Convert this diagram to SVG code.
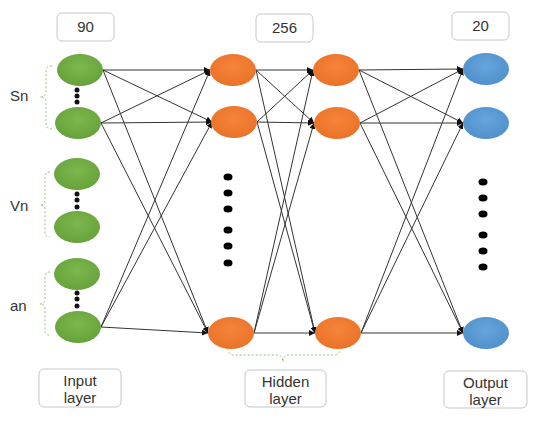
<svg xmlns="http://www.w3.org/2000/svg" width="550" height="426" viewBox="0 0 550 426">
<defs>
<style>
.t{font-family:"Liberation Sans",Arial,sans-serif;font-size:15px;fill:#333}
.box{fill:#fff;stroke:#c8c8c8;stroke-width:1}
.in{fill:url(#gG)}
.hid{fill:url(#gO)}
.out{fill:url(#gB)}
.e{stroke:#333;stroke-width:1;fill:none;marker-end:url(#ah)}
.br{stroke:#93c46e;stroke-width:1;fill:none;stroke-dasharray:2,2}
.sd{fill:#111}
.bd{fill:#000}
</style>
<radialGradient id="gG" cx="0.5" cy="0.4" r="0.6"><stop offset="0" stop-color="#7cb84e"/><stop offset="1" stop-color="#67a13a"/></radialGradient>
<radialGradient id="gO" cx="0.5" cy="0.4" r="0.6"><stop offset="0" stop-color="#f5843a"/><stop offset="1" stop-color="#ea7228"/></radialGradient>
<radialGradient id="gB" cx="0.5" cy="0.4" r="0.6"><stop offset="0" stop-color="#66a5dc"/><stop offset="1" stop-color="#5090cc"/></radialGradient>
<marker id="ah" viewBox="0 0 10 10" refX="10" refY="5" markerWidth="6" markerHeight="6" orient="auto" markerUnits="userSpaceOnUse"><path d="M0,0 L10,5 L0,10 z" fill="#111"/></marker>
</defs>
<rect width="550" height="426" fill="#fff"/>

<g id="connectors">
<line class="e" x1="103" y1="70" x2="210" y2="70"/>
<line class="e" x1="103" y1="70" x2="212" y2="122"/>
<line class="e" x1="103" y1="70" x2="208" y2="333"/>
<line class="e" x1="101" y1="123" x2="210" y2="70"/>
<line class="e" x1="101" y1="123" x2="212" y2="122"/>
<line class="e" x1="101" y1="123" x2="208" y2="333"/>
<line class="e" x1="101" y1="327" x2="210" y2="70"/>
<line class="e" x1="101" y1="327" x2="212" y2="122"/>
<line class="e" x1="101" y1="327" x2="208" y2="333"/>
<line class="e" x1="256" y1="70" x2="313" y2="70"/>
<line class="e" x1="256" y1="70" x2="314" y2="123"/>
<line class="e" x1="256" y1="70" x2="315" y2="333"/>
<line class="e" x1="257" y1="122" x2="313" y2="70"/>
<line class="e" x1="257" y1="122" x2="314" y2="123"/>
<line class="e" x1="257" y1="122" x2="315" y2="333"/>
<line class="e" x1="254" y1="333" x2="313" y2="70"/>
<line class="e" x1="254" y1="333" x2="314" y2="123"/>
<line class="e" x1="254" y1="333" x2="315" y2="333"/>
<line class="e" x1="359" y1="70" x2="463" y2="69"/>
<line class="e" x1="359" y1="70" x2="463" y2="123"/>
<line class="e" x1="359" y1="70" x2="463" y2="333"/>
<line class="e" x1="360" y1="123" x2="463" y2="69"/>
<line class="e" x1="360" y1="123" x2="463" y2="123"/>
<line class="e" x1="360" y1="123" x2="463" y2="333"/>
<line class="e" x1="361" y1="333" x2="463" y2="69"/>
<line class="e" x1="361" y1="333" x2="463" y2="123"/>
<line class="e" x1="361" y1="333" x2="463" y2="333"/>
</g>

<g id="input-nodes">
<ellipse id="in1" class="in" cx="80" cy="70" rx="23" ry="16"/>
<ellipse id="in2" class="in" cx="78" cy="123" rx="23" ry="16"/>
<ellipse id="in3" class="in" cx="77" cy="174" rx="23" ry="16"/>
<ellipse id="in4" class="in" cx="77" cy="227" rx="23" ry="16"/>
<ellipse id="in5" class="in" cx="77" cy="274" rx="23" ry="16"/>
<ellipse id="in6" class="in" cx="78" cy="327" rx="23" ry="16"/>
<circle class="sd" cx="77" cy="90" r="2.5"/><circle class="sd" cx="77" cy="96" r="2.5"/><circle class="sd" cx="77" cy="102" r="2.5"/>
<circle class="sd" cx="77" cy="194" r="2.5"/><circle class="sd" cx="77" cy="200" r="2.5"/><circle class="sd" cx="77" cy="207" r="2.5"/>
<circle class="sd" cx="77" cy="293" r="2.5"/><circle class="sd" cx="77" cy="299" r="2.5"/><circle class="sd" cx="77" cy="306" r="2.5"/>
</g>

<g id="hidden1-nodes">
<ellipse id="h1a" class="hid" cx="233" cy="70" rx="23" ry="16"/>
<ellipse id="h1b" class="hid" cx="234" cy="122" rx="23" ry="16"/>
<ellipse id="h1c" class="hid" cx="231" cy="333" rx="23" ry="16"/>
<ellipse class="bd" cx="228" cy="177" rx="4.5" ry="3.5"/><ellipse class="bd" cx="228" cy="193" rx="4.5" ry="3.5"/><ellipse class="bd" cx="228" cy="209" rx="4.5" ry="3.5"/>
<ellipse class="bd" cx="228" cy="230" rx="4.5" ry="3.5"/><ellipse class="bd" cx="228" cy="246" rx="4.5" ry="3.5"/><ellipse class="bd" cx="228" cy="263" rx="4.5" ry="3.5"/>
</g>

<g id="hidden2-nodes">
<ellipse id="h2a" class="hid" cx="336" cy="70" rx="23" ry="16"/>
<ellipse id="h2b" class="hid" cx="337" cy="123" rx="23" ry="16"/>
<ellipse id="h2c" class="hid" cx="338" cy="333" rx="23" ry="16"/>
</g>

<g id="output-nodes">
<ellipse id="o1" class="out" cx="486" cy="69" rx="23" ry="16"/>
<ellipse id="o2" class="out" cx="486" cy="123" rx="23" ry="16"/>
<ellipse id="o3" class="out" cx="486" cy="333" rx="23" ry="16"/>
<ellipse class="bd" cx="483" cy="182" rx="4.5" ry="3.5"/><ellipse class="bd" cx="483" cy="198" rx="4.5" ry="3.5"/><ellipse class="bd" cx="483" cy="214" rx="4.5" ry="3.5"/>
<ellipse class="bd" cx="483" cy="235" rx="4.5" ry="3.5"/><ellipse class="bd" cx="483" cy="251" rx="4.5" ry="3.5"/><ellipse class="bd" cx="483" cy="267" rx="4.5" ry="3.5"/>
</g>

<g id="braces">
<path class="br" d="M52,66 Q46,66 46,71 L46,92 Q46,97 40,97 Q46,97 46,102 L46,124 Q46,129 52,129"/>
<path class="br" d="M50,172 Q45,172 45,177 L45,200 Q45,205 40,205 Q45,205 45,210 L45,232 Q45,237 50,237"/>
<path class="br" d="M50,272 Q45,272 45,277 L45,299 Q45,304 40,304 Q45,304 45,309 L45,330 Q45,335 50,335"/>
<path class="br" d="M228,348 Q228,355 234,355 L277,355 Q283,355 283,362 Q283,355 289,355 L334,355 Q340,355 340,348"/>
</g>

<g id="labels">
<text class="t" x="10" y="101">Sn</text>
<text class="t" x="10" y="211">Vn</text>
<text class="t" x="10" y="311">an</text>
</g>

<g id="count-boxes">
<rect class="box" x="57" y="13" width="57" height="28" rx="5"/>
<text class="t" x="85.5" y="32" text-anchor="middle">90</text>
<rect class="box" x="256" y="14" width="57" height="28" rx="5"/>
<text class="t" x="284.5" y="33" text-anchor="middle">256</text>
<rect class="box" x="452" y="12" width="57" height="28" rx="5"/>
<text class="t" x="480.5" y="31" text-anchor="middle">20</text>
</g>

<g id="layer-boxes">
<rect class="box" x="39" y="369" width="82" height="38" rx="5"/>
<text class="t" x="80" y="386" text-anchor="middle">Input</text>
<text class="t" x="80" y="403" text-anchor="middle">layer</text>
<rect class="box" x="245" y="370" width="81" height="37" rx="5"/>
<text class="t" x="285.5" y="387" text-anchor="middle">Hidden</text>
<text class="t" x="285.5" y="404" text-anchor="middle">layer</text>
<rect class="box" x="444" y="371" width="83" height="37" rx="5"/>
<text class="t" x="485.5" y="388" text-anchor="middle">Output</text>
<text class="t" x="485.5" y="405" text-anchor="middle">layer</text>
</g>
</svg>
